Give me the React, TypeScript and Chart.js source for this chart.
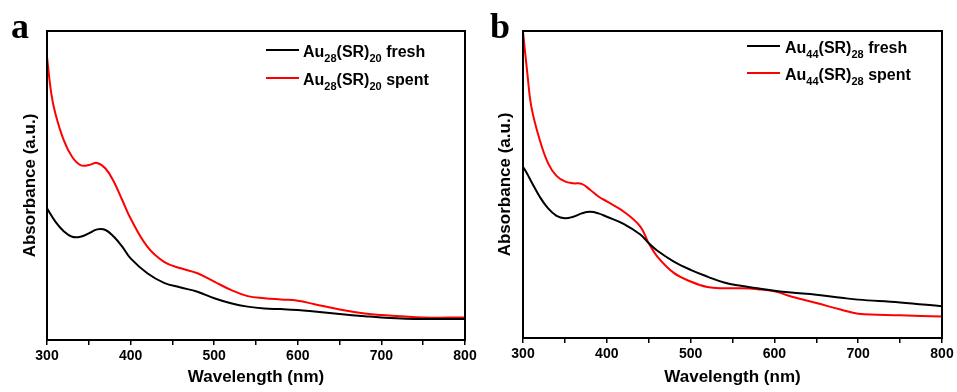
import React, { useEffect, useRef } from 'react';
import { Chart, registerables } from 'chart.js';
Chart.register(...registerables);

// Panel a
const aFreshWl = [300, 310, 320, 330, 340, 350, 360, 370, 380, 390, 400, 420, 440, 460, 480, 500, 520, 540, 560, 580, 600, 620, 650, 680, 700, 750, 800];
const aFresh = [0.426, 0.383, 0.352, 0.334, 0.334, 0.345, 0.358, 0.356, 0.334, 0.302, 0.264, 0.216, 0.185, 0.170, 0.156, 0.135, 0.119, 0.108, 0.102, 0.100, 0.097, 0.092, 0.084, 0.077, 0.073, 0.068, 0.068];
const aSpentWl = [300, 305, 310, 320, 330, 340, 350, 360, 370, 380, 390, 400, 420, 440, 460, 480, 500, 520, 540, 560, 580, 600, 620, 650, 680, 700, 750, 800];
const aSpent = [0.916, 0.800, 0.733, 0.647, 0.593, 0.566, 0.566, 0.573, 0.555, 0.512, 0.453, 0.393, 0.302, 0.253, 0.232, 0.216, 0.189, 0.162, 0.142, 0.135, 0.131, 0.127, 0.116, 0.099, 0.086, 0.081, 0.073, 0.073];

// Panel b
const bWl = [300, 305, 310, 320, 330, 340, 350, 360, 370, 380, 390, 400, 420, 440, 450, 460, 480, 500, 520, 540, 560, 580, 600, 620, 650, 680, 700, 750, 800];
const bFresh = [0.558, 0.535, 0.509, 0.460, 0.422, 0.398, 0.390, 0.395, 0.406, 0.411, 0.406, 0.395, 0.372, 0.337, 0.309, 0.285, 0.249, 0.222, 0.200, 0.181, 0.170, 0.162, 0.154, 0.148, 0.141, 0.131, 0.125, 0.116, 0.103];
const bSpent = [0.997, 0.867, 0.753, 0.645, 0.569, 0.528, 0.510, 0.504, 0.502, 0.483, 0.461, 0.445, 0.412, 0.363, 0.309, 0.266, 0.212, 0.184, 0.166, 0.162, 0.162, 0.159, 0.152, 0.135, 0.114, 0.092, 0.079, 0.074, 0.070];

// Legend text parts: [main, sub, main, sub, main]
const aLegendFresh = ['Au', '28', '(SR)', '20', ' fresh'];
const aLegendSpent = ['Au', '28', '(SR)', '20', ' spent'];
const bLegendFresh = ['Au', '44', '(SR)', '28', ' fresh'];
const bLegendSpent = ['Au', '44', '(SR)', '28', ' spent'];

const xTitle = 'Wavelength (nm)';
const yTitle = 'Absorbance (a.u.)';
const FONT = '"Liberation Sans", Arial, sans-serif';

const toPts = (xs: number[], ys: number[]) => xs.map((x, i) => ({ x, y: ys[i] }));

function makeDeco(o: any) {
  return {
    id: 'deco',
    afterDraw(chart: any) {
      const { ctx, chartArea: ca } = chart;
      ctx.save();
      ctx.strokeStyle = '#000';
      ctx.lineWidth = 2;
      ctx.strokeRect(ca.left, ca.top, ca.right - ca.left, ca.bottom - ca.top);
      ctx.fillStyle = '#000';
      ctx.textBaseline = 'alphabetic';
      ctx.font = 'bold 36px "Liberation Serif", serif';
      ctx.fillText(o.letter, o.letterX, o.letterY);
      o.legend.forEach((item: any, idx: number) => {
        const y = o.legY[idx];
        ctx.strokeStyle = item.color;
        ctx.lineWidth = 2;
        ctx.beginPath();
        ctx.moveTo(o.legX0, y);
        ctx.lineTo(o.legX1, y);
        ctx.stroke();
        let x = o.textX;
        item.parts.forEach((p: string, i: number) => {
          const isSub = i % 2 === 1;
          ctx.font = isSub ? `bold 11px ${FONT}` : `bold 16px ${FONT}`;
          ctx.fillStyle = '#000';
          ctx.fillText(p, x, y + (isSub ? 12 : 7));
          x += ctx.measureText(p).width;
        });
      });
      ctx.restore();
    },
  };
}

function Panel(props: any) {
  const ref = useRef<HTMLCanvasElement>(null);
  useEffect(() => {
    const p = props;
    const chart = new Chart(ref.current!, {
      type: 'line',
      data: {
        datasets: [
          { data: toPts(p.fWl, p.fresh), borderColor: '#000', borderWidth: 2, pointRadius: 0, tension: 0.4, fill: false },
          { data: toPts(p.sWl, p.spent), borderColor: '#ff0000', borderWidth: 2, pointRadius: 0, tension: 0.4, fill: false },
        ],
      },
      options: {
        responsive: false,
        animation: false,
        events: [],
        layout: { padding: { left: p.padLeft, right: p.padRight, top: 31, bottom: 4 } },
        plugins: { legend: { display: false }, tooltip: { enabled: false } },
        scales: {
          x: {
            type: 'linear',
            min: 300,
            max: 800,
            ticks: {
              stepSize: 50,
              autoSkip: false,
              maxRotation: 0,
              color: '#000',
              padding: 3,
              font: { family: FONT, weight: 'bold', size: 14 },
              callback: (v: any) => (v % 100 === 0 ? String(v) : ''),
            },
            grid: { display: true, drawOnChartArea: false, drawTicks: true, tickLength: 5, color: '#000', lineWidth: 1.5 },
            border: { display: false },
            title: { display: true, text: xTitle, color: '#000', padding: 0, font: { family: FONT, weight: 'bold', size: 17 } },
            afterFit: (s: any) => { s.height = p.xHeight; },
          },
          y: {
            min: 0,
            max: 1,
            ticks: { display: false },
            grid: { display: false },
            border: { display: false },
            title: { display: true, text: yTitle, color: '#000', padding: 0, font: { family: FONT, weight: 'bold', size: 17 } },
            afterFit: (s: any) => { s.width = p.yWidth; },
          },
        },
      } as any,
      plugins: [makeDeco(p.deco)],
    });
    return () => chart.destroy();
  }, []);
  return (
    <canvas
      ref={ref}
      width={props.w}
      height={392}
      style={{ position: 'absolute', left: props.left, top: 0, width: props.w, height: 392 }}
    />
  );
}

export default function App() {
  return (
    <div style={{ position: 'fixed', left: 0, top: 0, width: 957, height: 392, background: '#fff', overflow: 'hidden' }}>
      <Panel
        left={0}
        w={480}
        fWl={aFreshWl}
        fresh={aFresh}
        sWl={aSpentWl}
        spent={aSpent}
        padLeft={20}
        padRight={15}
        yWidth={27}
        xHeight={48}
        deco={{
          letter: 'a', letterX: 11, letterY: 38,
          legX0: 266, legX1: 299, legY: [50, 78], textX: 303,
          legend: [{ color: '#000', parts: aLegendFresh }, { color: '#ff0000', parts: aLegendSpent }],
        }}
      />
      <Panel
        left={480}
        w={477}
        fWl={bWl}
        fresh={bFresh}
        sWl={bWl}
        spent={bSpent}
        padLeft={15}
        padRight={15}
        yWidth={28}
        xHeight={50}
        deco={{
          letter: 'b', letterX: 10, letterY: 38,
          legX0: 267, legX1: 300, legY: [46, 73], textX: 305,
          legend: [{ color: '#000', parts: bLegendFresh }, { color: '#ff0000', parts: bLegendSpent }],
        }}
      />
    </div>
  );
}
